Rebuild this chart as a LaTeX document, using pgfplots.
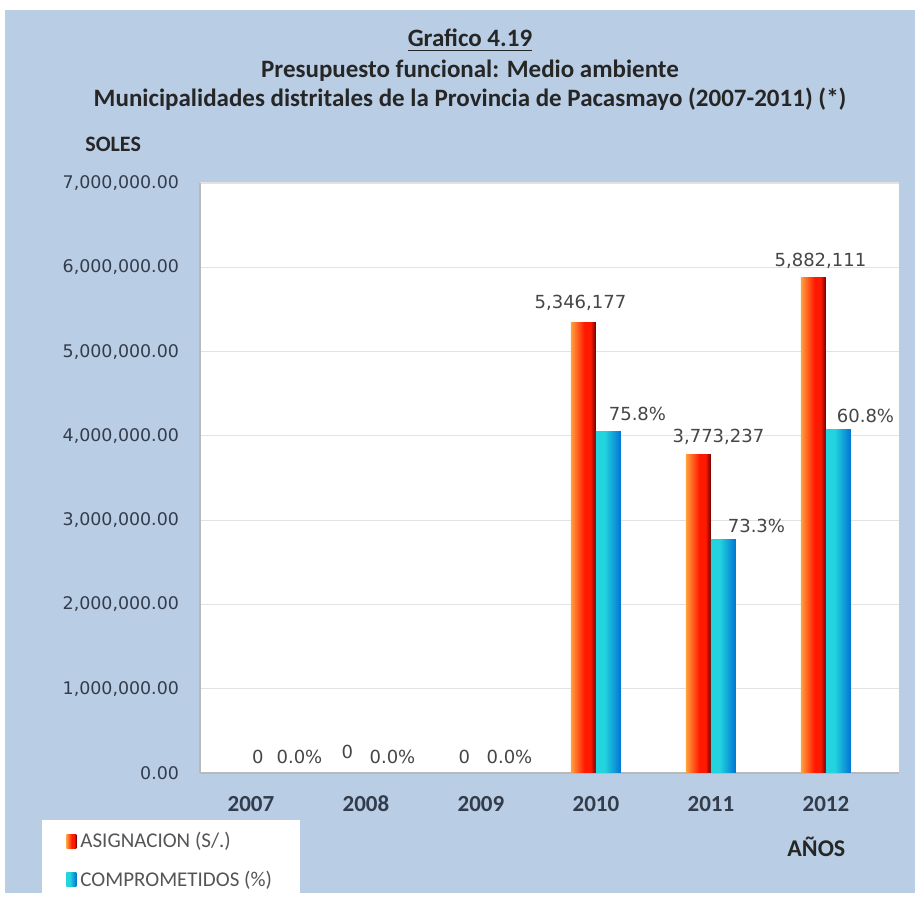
\documentclass[border=0pt]{standalone}
\usepackage{fontspec}
\setmainfont{Carlito}
\newfontfamily\numfont{DejaVu Sans}
\usepackage{pgfplots}
\usepackage{pgfplotstable}
\pgfplotsset{compat=1.18}

\definecolor{bgblue}{HTML}{B9CDE5}
\definecolor{tickcol}{RGB}{50,60,75}
\definecolor{labcol}{RGB}{70,70,70}
\definecolor{legcol}{RGB}{85,85,85}
\definecolor{gridcol}{RGB}{226,226,226}
\definecolor{orA}{RGB}{255,160,60}
\definecolor{orB}{RGB}{255,25,0}
\definecolor{orC}{RGB}{105,0,0}
\definecolor{blA}{RGB}{35,212,222}
\definecolor{blB}{RGB}{0,115,212}

% bar shadings: the path is mapped onto 25bp..75bp
\pgfdeclarehorizontalshading{orshade}{100bp}{color(0bp)=(orA); color(25bp)=(orA);
  color(52bp)=(orB); color(64bp)=(orB); color(75bp)=(orC); color(100bp)=(orC)}
\pgfdeclarehorizontalshading{blshade}{100bp}{color(0bp)=(blA); color(25bp)=(blA);
  color(42bp)=(blA); color(75bp)=(blB); color(100bp)=(blB)}

% x = year index (0 = 2007), dx/dy = label offset in pt from the year centre
\pgfplotstableread{
x y label dx dy
0 0 0 3.5 8
1 0 0 -9.25 10.5
2 0 0 -8.25 8
3 5346177 5,346,177 -7.75 10
4 3773237 3,773,237 3.75 9
5 5882111 5,882,111 -2.75 8
}\asignacion

\pgfplotstableread{
x y label dx dy
0 0 0.0\% 24.25 8
1 0 0.0\% 13.25 8
2 0 0.0\% 14.25 8
3 4052400 75.8\% 20.75 8.5
4 2765800 73.3\% 22.75 7
5 4070000 60.8\% 19.75 7
}\comprometidos

\pgfplotsset{
  orbar/.style={ybar, bar width=12.5pt, bar shift=-6.25pt, draw=none,
    shade, shading=orshade},
  blbar/.style={ybar, bar width=12.5pt, bar shift=6.25pt, draw=none,
    shade, shading=blshade},
  barlabels/.style={only marks, mark=none, forget plot,
    point meta=explicit symbolic, nodes near coords,
    visualization depends on={\thisrow{dx} \as \dx},
    visualization depends on={\thisrow{dy} \as \dy},
    nodes near coords style={anchor=center, xshift=\dx pt, yshift=\dy pt,
      font=\numfont\fontsize{9}{10}\selectfont, text=labcol}},
}

\begin{document}
\begin{tikzpicture}
\fill[white] (0,0) rectangle (459pt,450pt);
\fill[bgblue] (2.5pt,3.5pt) rectangle (457.5pt,445pt);

\begin{axis}[
  at={(100pt,63.5pt)}, anchor=south west,
  width=349.5pt, height=295pt, scale only axis,
  xmin=-0.443, xmax=5.635,
  ymin=0, ymax=7000000,
  axis background/.style={fill=white},
  axis lines=left, axis line style={-, gray!55, line width=0.6pt},
  xtick={0,1,2,3,4,5},
  xticklabels={2007,2008,2009,2010,2011,2012},
  ytick={0,1000000,2000000,3000000,4000000,5000000,6000000,7000000},
  major tick length=0pt,
  ymajorgrids, grid style={gridcol, line width=0.6pt},
  scaled y ticks=false,
  yticklabel style={/pgf/number format/fixed, /pgf/number format/fixed zerofill,
    /pgf/number format/precision=2, /pgf/number format/1000 sep={,},
    /pgf/number format/assume math mode=true,
    font=\numfont\fontsize{8.7}{10}\selectfont, text=tickcol,
    anchor=east, xshift=-7pt},
  xticklabel style={font=\bfseries\fontsize{11.5}{13}\selectfont, text=tickcol,
    anchor=base, yshift=-19.5pt},
  legend cell align=left,
  legend style={at={(-0.226,-0.0797)}, anchor=north west, draw=none, fill=white,
    font=\fontsize{10.5}{12}\selectfont, text=legcol,
    inner xsep=12pt, inner ysep=4pt, row sep=6pt},
]
% one plot per bar, so that each bar gets its own shading
\addplot[orbar, restrict x to domain=3:3,
  legend image code/.code={\shade[shading=orshade]
    (0pt,-3.5pt) rectangle (5pt,3.5pt);}]
  table[x=x, y=y] {\asignacion};
\addplot[blbar, restrict x to domain=3:3,
  legend image code/.code={\shade[shading=blshade]
    (0pt,-3.5pt) rectangle (5pt,3.5pt);}]
  table[x=x, y=y] {\comprometidos};
\addplot[orbar, forget plot, restrict x to domain=4:4] table[x=x, y=y] {\asignacion};
\addplot[blbar, forget plot, restrict x to domain=4:4] table[x=x, y=y] {\comprometidos};
\addplot[orbar, forget plot, restrict x to domain=5:5] table[x=x, y=y] {\asignacion};
\addplot[blbar, forget plot, restrict x to domain=5:5] table[x=x, y=y] {\comprometidos};

% data labels
\addplot[barlabels] table[x=x, y=y, meta=label] {\asignacion};
\addplot[barlabels] table[x=x, y=y, meta=label] {\comprometidos};

\legend{ASIGNACION (S/.), COMPROMETIDOS (\%)}
\end{axis}

\node[font=\bfseries\fontsize{12.5}{14}\selectfont, text=black!85, anchor=base]
  at (235pt,426.5pt) {\underline{Grafico 4.19}};
\node[font=\bfseries\fontsize{12.5}{14}\selectfont, text=black!85, anchor=base]
  at (235pt,411pt) {Presupuesto funcional: Medio ambiente};
\node[font=\bfseries\fontsize{12.5}{14}\selectfont, text=black!85, anchor=base]
  at (235pt,396.5pt) {Municipalidades distritales de la Provincia de Pacasmayo (2007-2011) (*)};
\node[font=\bfseries\fontsize{11}{12}\selectfont, text=black!85, anchor=base west, inner sep=0pt]
  at (42.5pt,374pt) {SOLES};
\node[font=\bfseries\fontsize{12}{13}\selectfont, text=black!85, anchor=base west, inner sep=0pt]
  at (393.5pt,21.5pt) {AÑOS};
\end{tikzpicture}
\end{document}
